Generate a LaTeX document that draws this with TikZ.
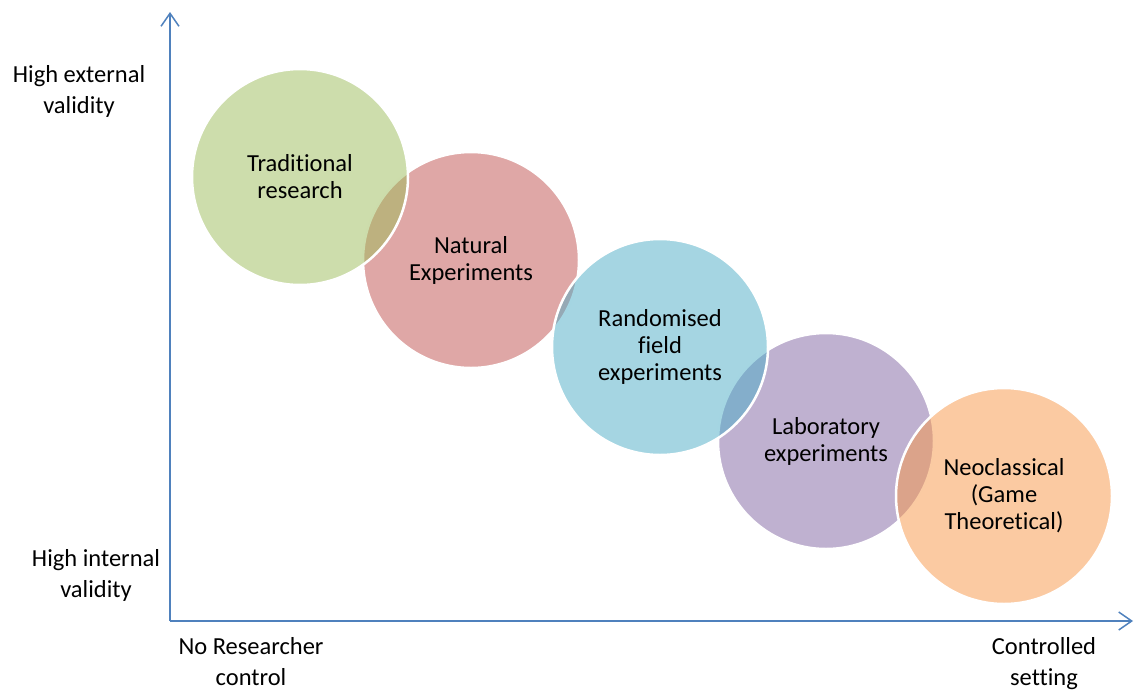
\documentclass[tikz,border=0pt]{standalone}
\usepackage{fontspec}
\setmainfont{Carlito}[Ligatures={NoCommon,NoContextual}]
\usepackage{tikz}
\usetikzlibrary{arrows.meta,positioning}
\definecolor{tradGreen}{HTML}{9BBB59}
\definecolor{natRed}{HTML}{C0504D}
\definecolor{fieldBlue}{HTML}{4BACC6}
\definecolor{labPurple}{HTML}{8064A2}
\definecolor{neoOrange}{HTML}{F79646}
\definecolor{axisBlue}{HTML}{4F81BD}
\tikzset{
    bubble/.style={circle, draw=white, line width=2.5pt, fill opacity=0.5, text opacity=1, minimum size=216pt, inner sep=0pt, align=center, font=\fontsize{24.5}{27}\selectfont},
    axisArrow/.style={draw=axisBlue, line width=1.5pt, -{Straight Barb[length=13pt,width=18pt,line width=1.5pt]}},
    axisLabel/.style={align=center, inner sep=0pt, font=\fontsize{24.5}{31}\selectfont}
}
\begin{document}
\begin{tikzpicture}[x=1pt,y=-1pt]
			\useasboundingbox (0,0) rectangle (1134,691);
			% axes
			\coordinate (O) at (170,621);
			\coordinate (yTop) at (170,12);
			\coordinate (xEnd) at (1133,621);
			\draw[axisArrow] (O) -- (yTop);
			\draw[axisArrow] (O) -- (xEnd);

			\node[axisLabel] (extVal) at (79,91) {High external\\validity};
			\node[axisLabel] (intVal) at (96,575) {High internal\\validity};
			\node[axisLabel] (noCtrl) at (251,662) {No Researcher\\control};
			\node[axisLabel] (ctrlSet) at (1044,664) {Controlled\\setting};

			% bubbles, back ones first
			\node[bubble, fill=natRed] (natural) at (471,260) {Natural\\Experiments};
			\node[bubble, fill=labPurple] (lab) at (826,441) {Laboratory\\experiments};
			\node[bubble, fill=tradGreen] (trad) at (300,177) {Traditional\\research};
			\node[bubble, fill=fieldBlue] (field) at (660,347) {Randomised\\field\\experiments};
			\node[bubble, fill=neoOrange] (neo) at (1004,496) {Neoclassical\\(Game\\Theoretical)};
		\end{tikzpicture}
\end{document}
